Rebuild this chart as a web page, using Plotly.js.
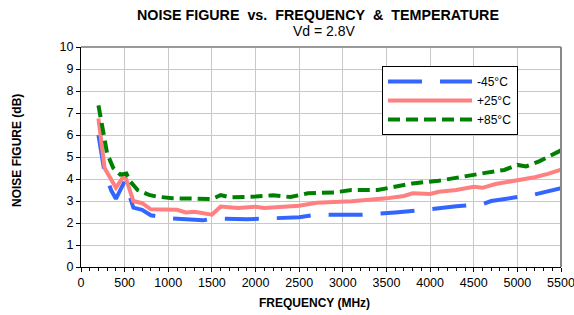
<!DOCTYPE html>
<html><head><meta charset="utf-8">
<script src="https://cdn.plot.ly/plotly-3.0.1.min.js"></script>
<style>html,body{margin:0;padding:0;background:#fff}#c{width:574px;height:315px}</style>
</head><body><div id="c"></div>
<script>
const seriesNames = ["-45°C", "+25°C", "+85°C"];
const freqM45 = [200,270,350,400,500,600,700,800,1000,1200,1400,1500,1700,1900,2100,2300,2500,2700,3000,3200,3600,3900,4300,4600,4700,5000,5200,5500];
const nfM45   = [6.0,4.3,3.45,3.1,3.9,2.7,2.6,2.35,2.22,2.18,2.12,2.2,2.17,2.17,2.2,2.24,2.26,2.38,2.36,2.37,2.48,2.58,2.76,2.86,3.0,3.17,3.3,3.58];
const freqP25 = [200,270,400,500,600,700,800,1100,1200,1300,1500,1600,1800,2000,2100,2300,2500,2700,3100,3500,3700,3800,4000,4100,4300,4500,4600,4750,5000,5200,5350,5500];
const nfP25   = [6.75,4.5,3.6,4.2,3.0,2.9,2.62,2.6,2.48,2.51,2.38,2.75,2.68,2.74,2.68,2.72,2.78,2.92,2.99,3.12,3.23,3.35,3.32,3.42,3.5,3.65,3.6,3.77,3.92,4.08,4.23,4.42];
const freqP85 = [200,240,300,370,450,520,560,650,780,870,1050,1300,1500,1600,1700,2000,2200,2400,2600,2900,3100,3400,3800,4100,4350,4650,4850,5000,5100,5250,5500];
const nfP85   = [7.35,6.45,5.15,4.5,4.2,4.25,3.9,3.5,3.28,3.2,3.12,3.11,3.09,3.27,3.17,3.2,3.26,3.18,3.35,3.39,3.5,3.5,3.8,3.92,4.1,4.29,4.41,4.64,4.57,4.8,5.3];
const xTicks = [0,500,1000,1500,2000,2500,3000,3500,4000,4500,5000,5500];
const yTicks = [0,1,2,3,4,5,6,7,8,9,10];
const titleText = "NOISE FIGURE\u00a0\u00a0vs.\u00a0\u00a0FREQUENCY\u00a0\u00a0&amp;\u00a0\u00a0TEMPERATURE";
const subtitleText = "Vd = 2.8V";
const xTitle = "FREQUENCY (MHz)";
const yTitle = "NOISE FIGURE (dB)";

const F = "Liberation Sans, Arial, sans-serif";
const traces = [
  {x: freqM45, y: nfM45, name: seriesNames[0], mode: "lines",
   line: {color: "#3366FF", width: 4, dash: "34px,18px"}},
  {x: freqP25, y: nfP25, name: seriesNames[1], mode: "lines",
   line: {color: "#FF8080", width: 4}},
  {x: freqP85, y: nfP85, name: seriesNames[2], mode: "lines",
   line: {color: "#008000", width: 4, dash: "12px,6px"}}
];
const PL = 81, PT = 47, PW = 480, PH = 220;
const px = v => (v - PL) / PW;
const py = v => (PT + PH - v) / PH;
const layout = {
  width: 574, height: 315,
  margin: {l: 81, r: 13, t: 47, b: 48},
  paper_bgcolor: "#fff", plot_bgcolor: "#fff",
  font: {family: F, size: 12, color: "#000"},
  xaxis: {range: [0, 5500], tickvals: xTicks, ticktext: xTicks.map(String),
          showgrid: true, gridcolor: "#C8C8C8", gridwidth: 1,
          showline: true, linecolor: "#000", linewidth: 1,
          ticks: "outside", ticklen: 4, tickcolor: "#000",
          minor: {dtick: 100, ticks: "outside", ticklen: 3, tickcolor: "#000", showgrid: false},
          zeroline: false, tickfont: {size: 12.5}, ticklabeloverflow: "allow"},
  yaxis: {range: [0, 10], tickvals: yTicks, ticktext: yTicks.map(String),
          showgrid: true, gridcolor: "#C8C8C8", gridwidth: 1,
          showline: true, linecolor: "#000", linewidth: 1,
          ticks: "outside", ticklen: 4, tickcolor: "#000",
          zeroline: false, tickfont: {size: 12.5}, ticklabeloverflow: "allow"},
  annotations: [
    {text: "<b>" + titleText + "</b>", xref: "paper", yref: "paper", x: px(318), xanchor: "center",
     y: py(15), yanchor: "middle", showarrow: false, font: {size: 14.3}},
    {text: subtitleText, xref: "paper", yref: "paper", x: px(324), xanchor: "center",
     y: py(31), yanchor: "middle", showarrow: false, font: {size: 14}},
    {text: "<b>" + xTitle + "</b>", xref: "paper", yref: "paper", x: px(314), xanchor: "center",
     y: py(303), yanchor: "middle", showarrow: false, font: {size: 12}},
    {text: "<b>" + yTitle + "</b>", xref: "paper", yref: "paper", x: px(17), xanchor: "center",
     y: py(151), yanchor: "middle", showarrow: false, textangle: -90, font: {size: 12}}
  ],
  shapes: [
    {type: "line", xref: "paper", yref: "paper", x0: 0, x1: 1, y0: 1, y1: 1, line: {color: "#999", width: 2}},
    {type: "line", xref: "paper", yref: "paper", x0: 1, x1: 1, y0: 0, y1: 1, line: {color: "#888", width: 2}}
  ],
  legend: {x: px(382), y: py(66), xanchor: "left", yanchor: "top",
           bgcolor: "#fff", bordercolor: "#000", borderwidth: 1,
           font: {size: 12}, itemwidth: 84, tracegroupgap: 0},
  showlegend: true
};
Plotly.newPlot("c", traces, layout, {staticPlot: true, displayModeBar: false});
</script>
</body></html>
